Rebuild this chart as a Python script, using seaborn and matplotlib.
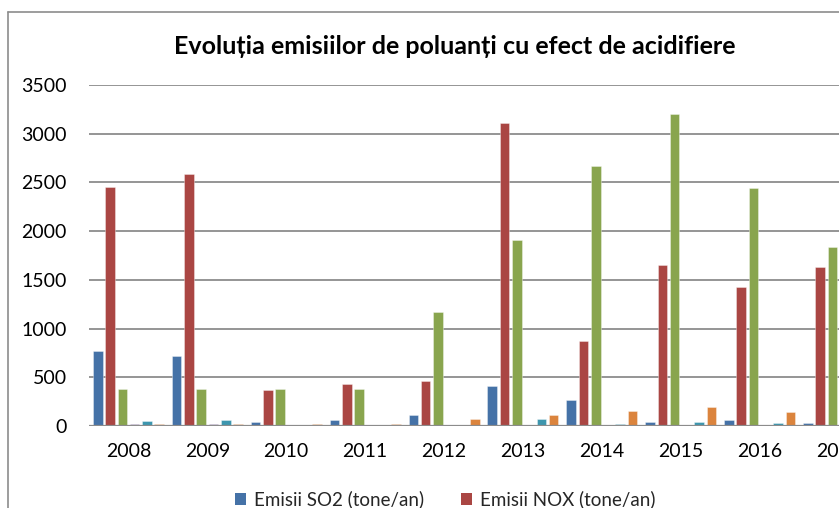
import matplotlib
matplotlib.use("Agg")
import matplotlib.pyplot as plt
import seaborn as sns
import pandas as pd
from matplotlib.lines import Line2D
from matplotlib.patches import Patch

years = ["2008", "2009", "2010", "2011", "2012", "2013", "2014", "2015", "2016", "2017"]
so2 = [765, 720, 41, 62, 110, 412, 264, 41, 58, 31]
nox = [2450, 2585, 370, 432, 460, 3114, 873, 1655, 1428, 1633]
nh3 = [378, 378, 375, 378, 1170, 1910, 2670, 3205, 2447, 1840]
ser4 = [24, 24, 2, 2, 2, 5, 3, 2, 2, 2]
ser5 = [55, 62, 4, 4, 4, 69, 20, 38, 34, 30]
ser6 = [20, 24, 20, 20, 72, 113, 154, 192, 144, 150]

names = ["Emisii SO2 (tone/an)", "Emisii NOX (tone/an)", "Emisii NH3 (tone/an)",
         "Emisii SO2 (kg/loc)", "Emisii NOX (kg/loc)", "Emisii NH3 (kg/loc)"]
colors = ["#4572A7", "#AA4643", "#89A54E", "#80699B", "#3D96AE", "#DB843D"]

series = [so2, nox, nh3, ser4, ser5, ser6]
df = pd.DataFrame({
    "An": years * 6,
    "Valoare": [v for s in series for v in s],
    "Serie": [n for n in names for _ in years],
})

sns.set_theme(style="white")
plt.rcParams["font.family"] = ["Lato", "DejaVu Sans"]

W, H = 839, 508
fig = plt.figure(figsize=(W / 100, H / 100), dpi=100)
left = 89 / W
right = (89 + 10 * 78.9) / W
bottom = (H - 426) / H
top = (H - 85) / H
ax = fig.add_axes([left, bottom, right - left, top - bottom])

sns.barplot(data=df, x="An", y="Valoare", hue="Serie", hue_order=names,
            palette=colors, width=0.933, gap=0.22, ax=ax, legend=False,
            edgecolor=(1, 1, 1, 0.5), linewidth=0.5, saturation=1, zorder=3)

ax.set_xlim(-0.5, 9.5)
ax.set_ylim(0, 3500)
ax.set_yticks(range(0, 3501, 500))
ax.set_xlabel("")
ax.set_ylabel("")
for s in ["top", "right", "left", "bottom"]:
    ax.spines[s].set_visible(False)
ax.yaxis.grid(True, color="#8c8c8c", linewidth=1.3, zorder=0)
ax.set_axisbelow(True)
ax.axhline(0, color="#8c8c8c", linewidth=1.6, zorder=4)
ax.tick_params(axis="y", length=0, pad=16, labelsize=14, labelcolor="black")
ax.tick_params(axis="x", length=0, pad=12, labelsize=14, labelcolor="black")

fig.text(455 / W, (H - 46) / H, "Evoluția emisiilor de poluanți cu efect de acidifiere",
         ha="center", va="center", fontsize=18, fontweight="bold", color="black")

# chart frame (cropped at right and bottom)
fig.add_artist(Line2D([7.5 / W, 7.5 / W], [-0.01, (H - 12) / H], color="#8c8c8c", linewidth=1.2,
                      transform=fig.transFigure))
fig.add_artist(Line2D([7.5 / W, 1.01], [(H - 12) / H, (H - 12) / H], color="#8c8c8c", linewidth=1.2,
                      transform=fig.transFigure))

handles = [Patch(facecolor=c, edgecolor="none") for c in colors]
order = [0, 2, 4, 1, 3, 5]
fig.legend([handles[i] for i in order], [names[i] for i in order], ncol=2,
           loc="upper center", bbox_to_anchor=(445 / W, (H - 481) / H),
           frameon=False, fontsize=13.5, handlelength=0.6, handleheight=0.6,
           handletextpad=0.4, columnspacing=1.8, labelspacing=0.5,
           borderpad=0.0)

fig.savefig("out.png", dpi=100)
